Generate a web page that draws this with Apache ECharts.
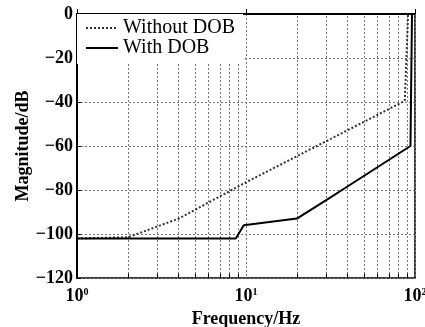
<!DOCTYPE html>
<html><head><meta charset="utf-8">
<script src="https://cdn.jsdelivr.net/npm/echarts@6/dist/echarts.min.js"></script>
<style>html,body{margin:0;padding:0;background:#fff}#c{width:425px;height:327px}</style>
</head><body><div id="c"></div>
<script>
const freqWithout = [1, 2, 4, 10, 87, 91];
const magWithout = [-102, -101.5, -93, -76.5, -39.5, 0];
const freqWith = [1, 8.7, 9.7, 20, 30, 37, 94, 96];
const magWith = [-102, -102, -96, -93, -84.5, -80, -60, 0];
const minorGrid = [2,3,4,5,6,7,8,9,20,30,40,50,60,70,80,90];
const yTicks = {min: -120, max: 0, interval: 20};
const seriesNames = ['Without DOB', 'With DOB'];

const FONT = '"Liberation Serif","Times New Roman",serif';
const chart = echarts.init(document.getElementById('c'), null, {renderer: 'canvas'});
const zip = (a, b) => a.map((v, i) => [v, b[i]]);

chart.setOption({
  animation: false,
  backgroundColor: '#fff',
  grid: {left: 77, right: 10, top: 14, bottom: 49, show: true, borderColor: '#000', borderWidth: 1.5,
         backgroundColor: 'transparent', containLabel: false, outerBoundsMode: 'none'},
  legend: {
    orient: 'vertical', left: 77, top: 14,
    padding: [4, 8, 6, 8], itemGap: 0, itemWidth: 32, itemHeight: 14,
    backgroundColor: '#fff',
    itemStyle: {opacity: 0},
    textStyle: {fontFamily: FONT, fontSize: 20, color: '#000'},
    data: seriesNames
  },
  xAxis: {
    type: 'log', logBase: 10, min: 1, max: 100,
    axisLine: {lineStyle: {color: '#000', width: 2}},
    axisTick: {inside: true, length: 5, lineStyle: {color: '#000'}},
    splitLine: {show: true, lineStyle: {type: [2, 2], color: '#777', width: 1}},
    axisLabel: {
      margin: 9, color: '#000',
      formatter: v => '{b|10}{s|' + Math.round(Math.log10(v)) + '}',
      rich: {
        b: {fontFamily: FONT, fontSize: 18, color: '#000', fontWeight: 'bold'},
        s: {fontFamily: FONT, fontSize: 10, color: '#000', fontWeight: 'bold', verticalAlign: 'top', padding: [0, 0, 9, 0]}
      }
    },
    name: 'Frequency/Hz', nameLocation: 'middle', nameGap: 32,
    nameTextStyle: {fontFamily: FONT, fontSize: 18, fontWeight: 'bold', color: '#000'}
  },
  yAxis: {
    type: 'value', min: yTicks.min, max: yTicks.max, interval: yTicks.interval,
    axisLine: {show: true, lineStyle: {color: '#000', width: 2}},
    axisTick: {show: true, inside: true, length: 4, lineStyle: {color: '#000'}},
    splitLine: {show: true, lineStyle: {type: [2, 2], color: '#777', width: 1}},
    axisLabel: {
      margin: 4, color: '#000', fontFamily: FONT, fontSize: 18, fontWeight: 'bold',
      formatter: v => String(v).replace('-', '\u2212')
    },
    name: 'Magnitude/dB', nameLocation: 'middle', nameGap: 45, nameMoveOverlap: false,
    nameTextStyle: {fontFamily: FONT, fontSize: 18, fontWeight: 'bold', color: '#000'}
  },
  series: [
    {
      name: seriesNames[0], type: 'line', symbol: 'none', z: 3,
      lineStyle: {color: '#333', width: 2, type: 'dotted'},
      itemStyle: {color: '#333'},
      data: zip(freqWithout, magWithout),
      markLine: {
        silent: true, symbol: 'none', label: {show: false}, z: 1,
        lineStyle: {type: [2, 2], color: '#777', width: 1},
        data: minorGrid.map(v => ({xAxis: v}))
      }
    },
    {
      name: seriesNames[1], type: 'line', symbol: 'none', z: 4,
      lineStyle: {color: '#000', width: 2, type: 'solid'},
      itemStyle: {color: '#000'},
      data: zip(freqWith, magWith),
      markLine: {
        silent: true, symbol: 'none', label: {show: false},
        lineStyle: {type: 'solid', color: '#000', width: 1},
        data: minorGrid.map(v => [{coord: [v, yTicks.min]}, {coord: [v, yTicks.min + 2]}])
      }
    }
  ]
});
</script></body></html>
